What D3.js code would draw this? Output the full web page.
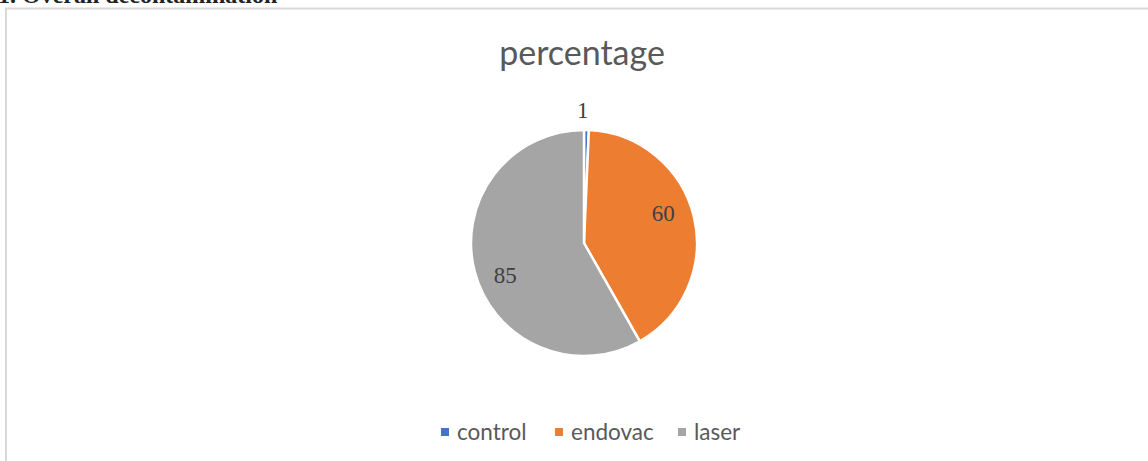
<!DOCTYPE html>
<html><head><meta charset="utf-8">
<script src="https://cdn.jsdelivr.net/npm/d3@7/dist/d3.min.js"></script>
<style>body{margin:0;background:#fff;overflow:hidden}</style>
</head><body>
<svg id="c" width="1148" height="461"></svg>
<script>
const categories = ["control", "endovac", "laser"];
const values = [1, 60, 85];
const colors = ["#4472c4", "#ed7d31", "#a5a5a5"];
const title = "percentage";
const caption = "1. Overall decontamination";

const svg = d3.select("#c");
svg.append("text").attr("x", -2).attr("y", 2.5).attr("font-family", "Liberation Serif")
  .attr("font-size", 24).attr("font-weight", "bold").attr("fill", "#222").text(caption);
svg.append("rect").attr("x", 6).attr("y", 8.5).attr("width", 1160).attr("height", 470)
  .attr("fill", "#fff").attr("stroke", "#d9d9d9").attr("stroke-width", 2);

svg.append("text").attr("x", 582).attr("y", 65).attr("text-anchor", "middle")
  .attr("font-family", "Lato").attr("font-size", 34).attr("fill", "#595959").text(title);

const cx = 584, cy = 243, r = 113;
const pie = d3.pie().sort(null).value(d => d)(values);
const arc = d3.arc().innerRadius(0).outerRadius(r);
const g = svg.append("g").attr("transform", `translate(${cx},${cy})`);
g.selectAll("path").data(pie).join("path").attr("d", arc)
  .attr("fill", (d, i) => colors[i]).attr("stroke", "#fff").attr("stroke-width", 2.5);

const shift = -7 * Math.PI / 180;
function labelPos(d, i) {
  const a = (d.startAngle + d.endAngle) / 2 + (i === 0 ? -0.03 : shift);
  const rr = i === 0 ? r * 1.18 : r * 0.75;
  return [Math.sin(a) * rr, -Math.cos(a) * rr];
}
g.selectAll("text.lbl").data(pie).join("text").attr("class", "lbl")
  .attr("transform", (d, i) => { const p = labelPos(d, i); return `translate(${p[0]},${p[1]})`; })
  .attr("text-anchor", "middle").attr("dy", "0.35em")
  .attr("font-family", "Liberation Serif").attr("font-size", 23).attr("fill", "#404040")
  .text(d => d.data);

const legX = [441, 555, 678];
const lg = svg.append("g");
categories.forEach((c, i) => {
  lg.append("rect").attr("x", legX[i]).attr("y", 428).attr("width", 8).attr("height", 8).attr("fill", colors[i]);
  lg.append("text").attr("x", legX[i] + 16).attr("y", 440).attr("font-family", "Lato")
    .attr("font-size", 22.5).attr("fill", "#595959").text(c);
});
</script>
</body></html>
